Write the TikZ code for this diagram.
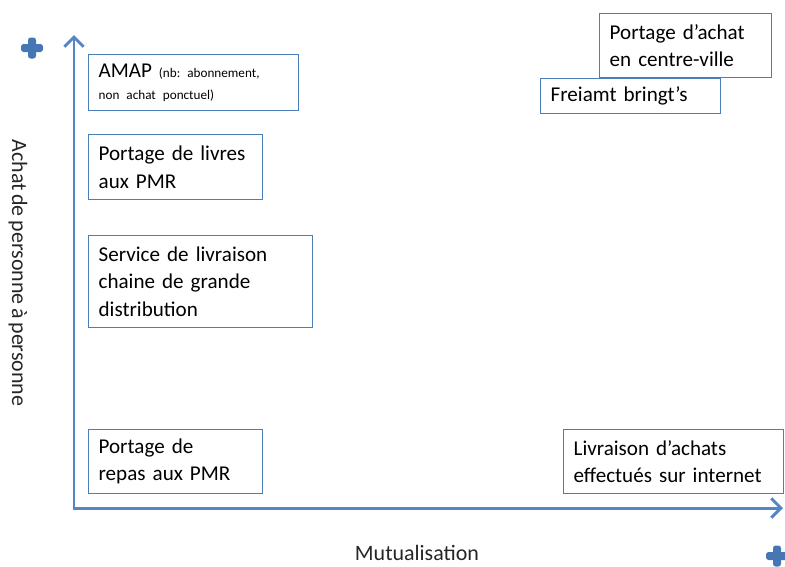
\documentclass[tikz,border=0pt]{standalone}
\usepackage{fontspec}
\setmainfont{Carlito}[WordSpace=0.75]
\usetikzlibrary{arrows.meta}

\definecolor{boxblue}{HTML}{4A7EBB}
\definecolor{axisblue}{HTML}{5585C5}
\definecolor{plusblue}{HTML}{4677B4}

\tikzset{
  box/.style={draw=boxblue, line width=0.75pt, fill=white, anchor=north west,
    align=left, inner sep=0pt, font=\fontsize{12}{15.6}\selectfont},
  axis/.style={axisblue, line width=1.7pt, {Straight Barb[length=5.5pt, width=11pt]}-{Straight Barb[length=5.5pt, width=11pt]}},
  axislabel/.style={font=\fontsize{12.5}{14}\selectfont, text=black!85}
}

\begin{document}
\frenchspacing
\begin{tikzpicture}[x=0.02cm, y=-0.02cm]
      \useasboundingbox (0,0) rectangle (785,566);
      % axes
      \coordinate (O) at (74,508);
      \coordinate (ytop) at (74,35);
      \coordinate (xend) at (783,508);
      \draw[axis] (ytop) -- (O) -- (xend);
      \node[axislabel] (xlab) at (417,553) {Mutualisation};
      \node[axislabel, rotate=-90] (ylab) at (18,273) {Achat de personne à personne};
      % plus signs
      \foreach \c in {(32,48), (777,556)} {
        \fill[plusblue, rounded corners=1.5pt] \c ++(-11,-4) rectangle ++(22,8);
        \fill[plusblue, rounded corners=1.5pt] \c ++(-4,-10.5) rectangle ++(8,21);
      }
      % boxes
      \node[box, minimum width=4.2cm, minimum height=1.12cm, text width=3.8cm] (amap) at (88,54)
        {AMAP {\fontsize{7.5}{9}\selectfont (nb: abonnement,}\\[-3pt]{\fontsize{7.5}{9}\selectfont non achat ponctuel)}};
      \node[box, minimum width=3.48cm, minimum height=1.3cm, text width=3.08cm] (livres) at (88,134)
        {Portage de livres\\aux PMR};
      \node[box, minimum width=4.48cm, minimum height=1.84cm, text width=4.08cm] (service) at (88,235)
        {Service de livraison\\chaine de grande\\distribution};
      \node[box, minimum width=3.48cm, minimum height=1.28cm, text width=3.08cm] (repas) at (88,429)
        {Portage de\\repas aux PMR};
      \node[box, minimum width=4.4cm, minimum height=1.28cm, text width=4.0cm] (internet) at (563,429)
        {Livraison d’achats\\effectués sur internet};
      \node[box, minimum width=3.44cm, minimum height=1.28cm, text width=3.04cm] (centre) at (599,13)
        {Portage d’achat\\en centre-ville};
      \node[box, minimum width=3.6cm, minimum height=0.7cm, text width=3.2cm] (freiamt) at (540,78)
        {Freiamt bringt’s};
\end{tikzpicture}
\end{document}
